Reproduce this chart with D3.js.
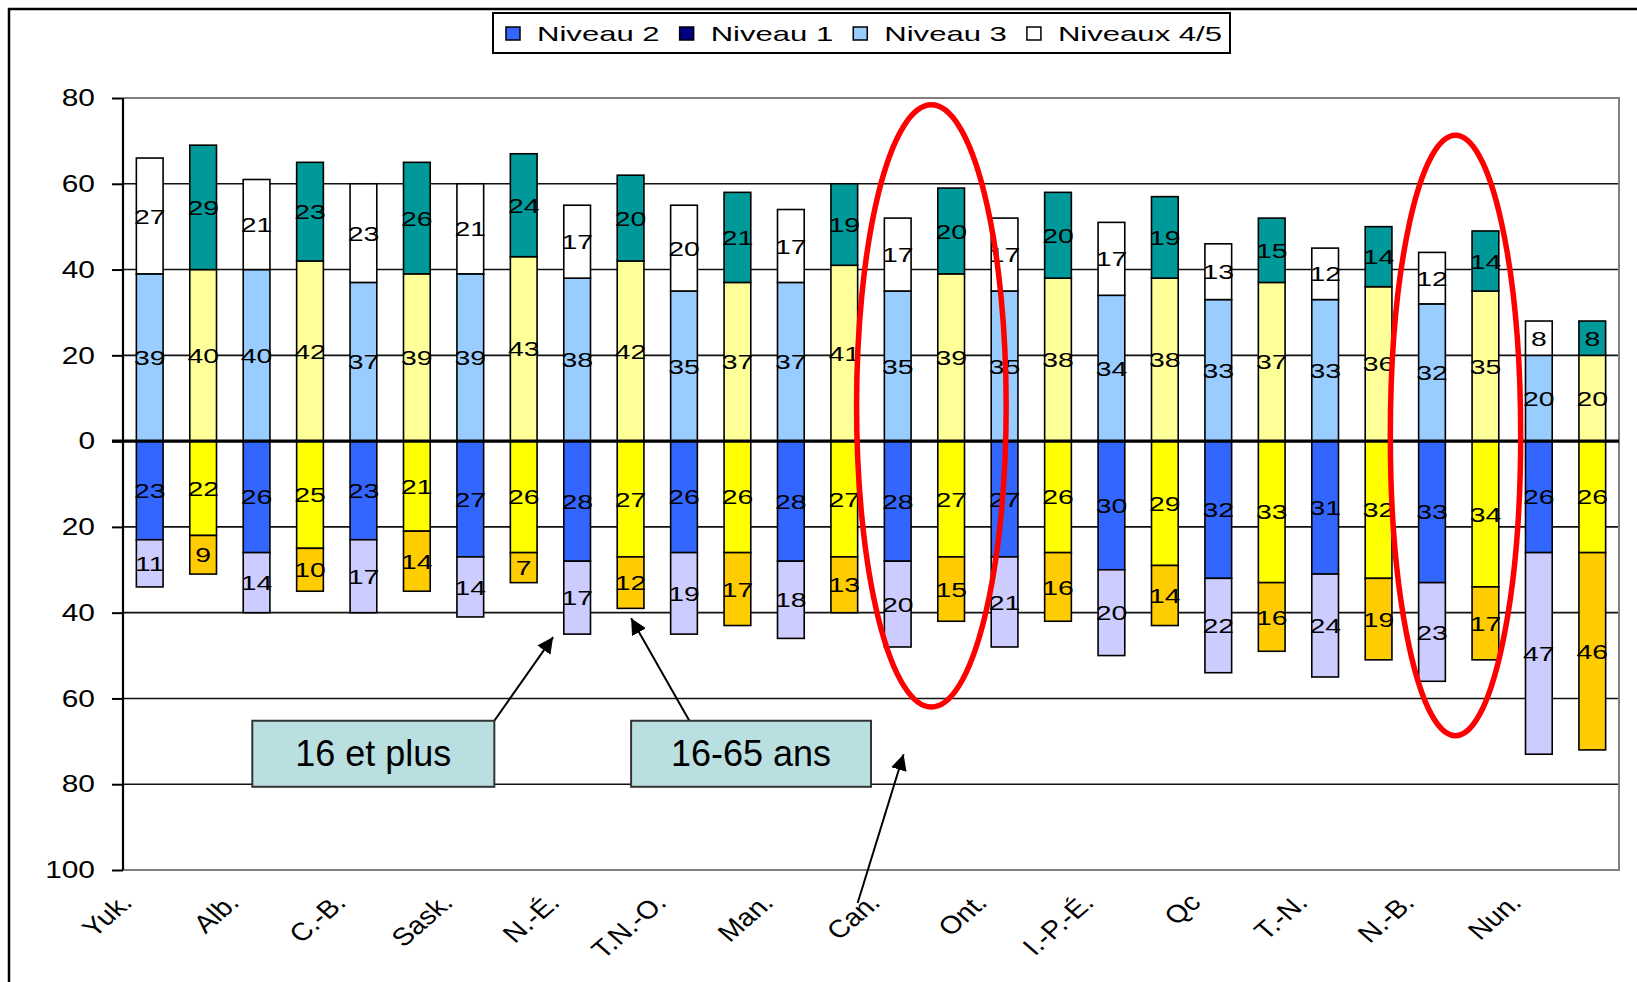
<!DOCTYPE html>
<html lang="fr">
<head>
  <meta charset="UTF-8">
  <title>Niveaux de littératie par province</title>
  <script src="https://d3js.org/d3.v7.min.js"></script>
  <style>
    body { margin: 0; background: #fff; }
    text { font-family: "Liberation Sans", Arial, sans-serif; fill: #000; }
  </style>
</head>
<body>
  <div id="chart"></div>

  <script>
    // regions, two bars each: 16 et plus, then 16-65 ans
    const regions = ["Yuk.", "Alb.", "C.-B.", "Sask.", "N.-É.", "T.N.-O.", "Man.",
                     "Can.", "Ont.", "I.-P.-É.", "Qc", "T.-N.", "N.-B.", "Nun."];

    // 16 et plus
    const niv3_16plus  = [39, 40, 37, 39, 38, 35, 37, 35, 35, 34, 33, 33, 32, 20];
    const niv45_16plus = [27, 21, 23, 21, 17, 20, 17, 17, 17, 17, 13, 12, 12, 8];
    const niv2_16plus  = [23, 26, 23, 27, 28, 26, 28, 28, 27, 30, 32, 31, 33, 26];
    const niv1_16plus  = [11, 14, 17, 14, 17, 19, 18, 20, 21, 20, 22, 24, 23, 47];

    // 16-65 ans
    const niv3_1665  = [40, 42, 39, 43, 42, 37, 41, 39, 38, 38, 37, 36, 35, 20];
    const niv45_1665 = [29, 23, 26, 24, 20, 21, 19, 20, 20, 19, 15, 14, 14, 8];
    const niv2_1665  = [22, 25, 21, 26, 27, 26, 27, 27, 26, 29, 33, 32, 34, 26];
    const niv1_1665  = [9, 10, 14, 7, 12, 17, 13, 15, 16, 14, 16, 19, 17, 46];

    const yTicks = [80, 60, 40, 20, 0, -20, -40, -60, -80, -100];
    const legendLabels = ["Niveau 2", "Niveau 1", "Niveau 3", "Niveaux 4/5"];
    const groupLabels = ["16 et plus", "16-65 ans"];

    const W = 1637, H = 982;
    const plot = { left: 123, right: 1619, top: 98, bottom: 870 };
    const SX = 1.35; // the source picture is stretched sideways

    const colors = {
      plus: { n3: "#99CCFF", n45: "#FFFFFF", n2: "#3366FF", n1: "#CCCCFF" },
      age:  { n3: "#FFFF99", n45: "#009999", n2: "#FFFF00", n1: "#FFCC00" }
    };

    // one entry per bar
    const bars = [];
    regions.forEach((r, i) => {
      bars.push({ region: r, grp: "plus", n3: niv3_16plus[i], n45: niv45_16plus[i], n2: niv2_16plus[i], n1: niv1_16plus[i] });
      bars.push({ region: r, grp: "age", n3: niv3_1665[i], n45: niv45_1665[i], n2: niv2_1665[i], n1: niv1_1665[i] });
    });
    bars.forEach((b, i) => b.idx = i);

    // stacked segments, niveaux 3 and 4/5 up, 2 and 1 down
    const segs = [];
    bars.forEach(b => {
      segs.push({ b, key: "n3", y0: 0, y1: b.n3, v: b.n3 });
      segs.push({ b, key: "n45", y0: b.n3, y1: b.n3 + b.n45, v: b.n45 });
      segs.push({ b, key: "n2", y0: 0, y1: -b.n2, v: b.n2 });
      segs.push({ b, key: "n1", y0: -b.n2, y1: -b.n2 - b.n1, v: b.n1 });
    });

    const x = d3.scaleBand()
      .domain(bars.map(b => b.idx))
      .range([plot.left, plot.right])
      .paddingInner(0.5)
      .paddingOuter(0.25);

    const y = d3.scaleLinear()
      .domain([-100, 80])
      .range([plot.bottom, plot.top]);

    // position in band units from the left edge of the plot
    const xPos = p => plot.left + p * x.step();

    const svg = d3.select("#chart")
      .append("svg")
      .attr("width", W)
      .attr("height", H);

    // outer frame
    svg.append("rect")
      .attr("x", 9).attr("y", 9)
      .attr("width", W + 20).attr("height", H + 20)
      .attr("fill", "none")
      .attr("stroke", "#000")
      .attr("stroke-width", 2.5);

    // gridlines
    svg.append("g")
      .selectAll("line")
      .data(yTicks.filter(t => t !== 0 && t !== 80 && t !== -100))
      .enter().append("line")
      .attr("x1", plot.left).attr("x2", plot.right)
      .attr("y1", d => y(d)).attr("y2", d => y(d))
      .attr("stroke", "#111")
      .attr("stroke-width", 1.6);

    // plot border (top, right, bottom)
    svg.append("path")
      .attr("d", `M${plot.left},${y(80)}H${plot.right}V${y(-100)}H${plot.left}`)
      .attr("fill", "none")
      .attr("stroke", "#808080")
      .attr("stroke-width", 2);

    // bars
    svg.append("g")
      .selectAll("rect")
      .data(segs)
      .enter().append("rect")
      .attr("x", d => x(d.b.idx))
      .attr("width", x.bandwidth())
      .attr("y", d => y(Math.max(d.y0, d.y1)))
      .attr("height", d => Math.abs(y(d.y0) - y(d.y1)))
      .attr("fill", d => colors[d.b.grp][d.key])
      .attr("stroke", "#000")
      .attr("stroke-width", 1.6);

    // y axis
    const yAxis = svg.append("g")
      .attr("transform", `translate(${plot.left},0)`)
      .call(d3.axisLeft(y).tickValues(yTicks).tickSize(11).tickPadding(18)
        .tickFormat(d => Math.abs(d)));
    yAxis.select(".domain").attr("stroke", "#000").attr("stroke-width", 2.2)
      .attr("d", `M0,${y(80)}V${y(-100)}`);
    yAxis.selectAll(".tick line").attr("stroke", "#000").attr("stroke-width", 2);
    yAxis.selectAll(".tick text")
      .attr("font-size", 23)
      .attr("x", null).attr("dy", null)
      .attr("dominant-baseline", "central")
      .attr("text-anchor", "end")
      .attr("transform", `translate(-28,0) scale(1.3,1)`);

    // zero line
    svg.append("line")
      .attr("x1", plot.left - 11).attr("x2", plot.right)
      .attr("y1", y(0)).attr("y2", y(0))
      .attr("stroke", "#000")
      .attr("stroke-width", 3.2);

    // value labels
    svg.append("g")
      .selectAll("text")
      .data(segs)
      .enter().append("text")
      .attr("text-anchor", "middle")
      .attr("dominant-baseline", "central")
      .attr("font-size", 21)
      .attr("transform", d => `translate(${x(d.b.idx) + x.bandwidth() / 2},${y((d.y0 + d.y1) / 2)}) scale(${SX},1)`)
      .text(d => d.v);

    // category labels, one per region under the first bar
    svg.append("g")
      .selectAll("text")
      .data(bars.filter(b => b.grp === "plus"))
      .enter().append("text")
      .attr("text-anchor", "end")
      .attr("font-size", 25)
      .attr("transform", d => `translate(${x(d.idx) + x.bandwidth() / 2 - 16},904) scale(1.15,1) rotate(-45)`)
      .text(d => d.region);

    // legend
    const legend = svg.append("g");
    const legendSwatch = [colors.plus.n2, "#000080", colors.plus.n3, "#FFFFFF"];
    let cx = 506;
    legendLabels.forEach((lab, i) => {
      legend.append("rect")
        .attr("x", cx).attr("y", 27)
        .attr("width", 14).attr("height", 13)
        .attr("fill", legendSwatch[i])
        .attr("stroke", "#000").attr("stroke-width", 1.5);
      const t = legend.append("text")
        .attr("font-size", 21)
        .attr("transform", `translate(${cx + 31},41) scale(1.48,1)`)
        .text(lab);
      cx += 31 + t.node().getComputedTextLength() * 1.48 + 20;
    });
    legend.insert("rect", ":first-child")
      .attr("x", 493).attr("y", 13)
      .attr("width", cx - 20 + 8 - 493).attr("height", 40)
      .attr("fill", "#fff")
      .attr("stroke", "#000").attr("stroke-width", 2);

    // arrows
    const defs = svg.append("defs");
    defs.append("marker")
      .attr("id", "head")
      .attr("viewBox", "0 0 10 10")
      .attr("refX", 10).attr("refY", 5)
      .attr("markerWidth", 8).attr("markerHeight", 8)
      .attr("markerUnits", "strokeWidth")
      .attr("orient", "auto")
      .append("path")
      .attr("d", "M0,0L10,5L0,10z")
      .attr("fill", "#000");

    const arrows = [
      { from: [6.95, -65.2], to: [8.05, -45.7] },
      { from: [10.6, -65.2], to: [9.51, -41.3] },
      { from: [13.75, -107.7], to: [14.61, -73] }
    ];
    svg.append("g")
      .selectAll("line")
      .data(arrows)
      .enter().append("line")
      .attr("x1", d => xPos(d.from[0])).attr("y1", d => y(d.from[1]))
      .attr("x2", d => xPos(d.to[0])).attr("y2", d => y(d.to[1]))
      .attr("stroke", "#000")
      .attr("stroke-width", 2)
      .attr("marker-end", "url(#head)");

    // group boxes
    const boxes = [
      { label: groupLabels[0], p0: 2.42, p1: 6.95 },
      { label: groupLabels[1], p0: 9.51, p1: 14.0 }
    ];
    const bx = svg.append("g")
      .selectAll("g")
      .data(boxes)
      .enter().append("g");
    bx.append("rect")
      .attr("x", d => xPos(d.p0))
      .attr("width", d => xPos(d.p1) - xPos(d.p0))
      .attr("y", y(-65.2))
      .attr("height", y(-80.6) - y(-65.2))
      .attr("fill", "#B9DFE1")
      .attr("stroke", "#333")
      .attr("stroke-width", 2);
    bx.append("text")
      .attr("x", d => (xPos(d.p0) + xPos(d.p1)) / 2)
      .attr("y", (y(-65.2) + y(-80.6)) / 2)
      .attr("text-anchor", "middle")
      .attr("dominant-baseline", "central")
      .attr("font-size", 36)
      .text(d => d.label);

    // red ellipses around Can. and N.-B.
    const rings = [
      { p: 15.13, rx: 1.40, v: 8.2, ry: 70.2 },
      { p: 24.94, rx: 1.22, v: 1.3, ry: 70 }
    ];
    svg.append("g")
      .selectAll("ellipse")
      .data(rings)
      .enter().append("ellipse")
      .attr("cx", d => xPos(d.p))
      .attr("cy", d => y(d.v))
      .attr("rx", d => d.rx * x.step())
      .attr("ry", d => y(0) - y(d.ry))
      .attr("fill", "none")
      .attr("stroke", "#FF0000")
      .attr("stroke-width", 5.5);
  </script>
</body>
</html>
